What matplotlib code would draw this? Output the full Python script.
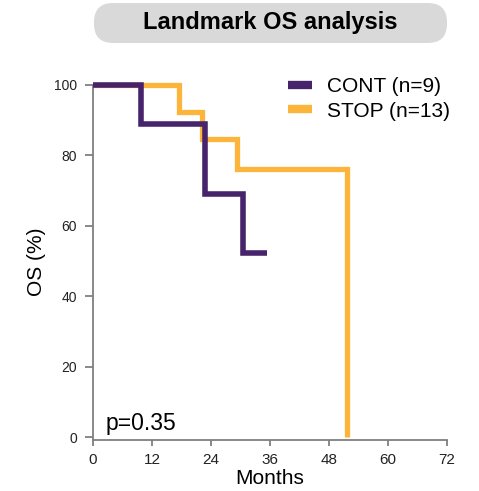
import matplotlib
matplotlib.use("Agg")
import matplotlib.pyplot as plt
from matplotlib.patches import FancyBboxPatch

plt.rcParams['font.family'] = ['Liberation Sans', 'DejaVu Sans']

# Data
cont_times = [0, 9.7, 22.8, 30.6, 35.3]
cont_surv = [100, 88.9, 69.1, 52.4, 52.4]
stop_times = [0, 17.5, 22.1, 29.3, 51.6]
stop_surv = [100, 92.3, 84.6, 76.2, 0]
cont_label = "CONT (n=9)"
stop_label = "STOP (n=13)"
x_ticks = [0, 12, 24, 36, 48, 60, 72]
y_ticks = [0, 20, 40, 60, 80, 100]
title = "Landmark OS analysis"
p_text = "p=0.35"

purple = '#47236b'
orange = '#fdb43a'
gray = '#7f7f7f'

W, H = 479, 491
fig = plt.figure(figsize=(W / 100, H / 100), dpi=100)
ax = fig.add_axes([93 / W, 1 - 440 / H, (447 - 93) / W, (440 - 85) / H])

ax.step(stop_times, stop_surv, where='post', color=orange, lw=3.8,
        solid_capstyle='butt', solid_joinstyle='miter', clip_on=False, label=stop_label, zorder=2)
ax.step(cont_times, cont_surv, where='post', color=purple, lw=4.0,
        solid_capstyle='butt', solid_joinstyle='miter', clip_on=False, label=cont_label, zorder=3)

ax.set_xlim(0, 72)
ax.set_ylim(-0.85, 100)
ax.set_xticks(x_ticks)
ax.set_yticks(y_ticks)
for s in ['top', 'right']:
    ax.spines[s].set_visible(False)
for s in ['left', 'bottom']:
    ax.spines[s].set_color(gray)
    ax.spines[s].set_linewidth(1.3)
ax.tick_params(axis='both', direction='out', width=1.3, color=gray, colors='#222222')
ax.tick_params(axis='y', labelsize=10, length=5.5, pad=6)
ax.tick_params(axis='x', labelsize=11, length=4.5, pad=5)

ax.text(2.6, 2.0, p_text, fontsize=16.5, va='baseline', ha='left', color='black')

handles, labels = ax.get_legend_handles_labels()
leg = fig.legend(handles[::-1], labels[::-1], loc='upper left',
                 bbox_to_anchor=(288 / W, 1 - 77 / H), frameon=False,
                 fontsize=15, handlelength=1.15, handletextpad=0.7,
                 labelspacing=0.27, borderpad=0, borderaxespad=0)
for lh in leg.get_lines():
    lh.set_linewidth(6)
    lh.set_solid_capstyle('butt')

fig.text(270 / W, 1 - 478 / H, "Months", fontsize=15, ha='center', va='center')
fig.text(37 / W, 1 - 262 / H, "OS (%)", fontsize=15, ha='center', va='center', rotation=90)

box = FancyBboxPatch((94 / W, 1 - 43 / H), (447 - 94) / W, 40 / H,
                     boxstyle="round,pad=0,rounding_size=0.04",
                     transform=fig.transFigure, facecolor='#d9d9d9', edgecolor='none',
                     mutation_aspect=W / H)
fig.patches.append(box)
fig.text(270 / W, 1 - 23 / H, title, fontsize=17, fontweight='bold', ha='center', va='center')

fig.savefig('out.png', dpi=100)
